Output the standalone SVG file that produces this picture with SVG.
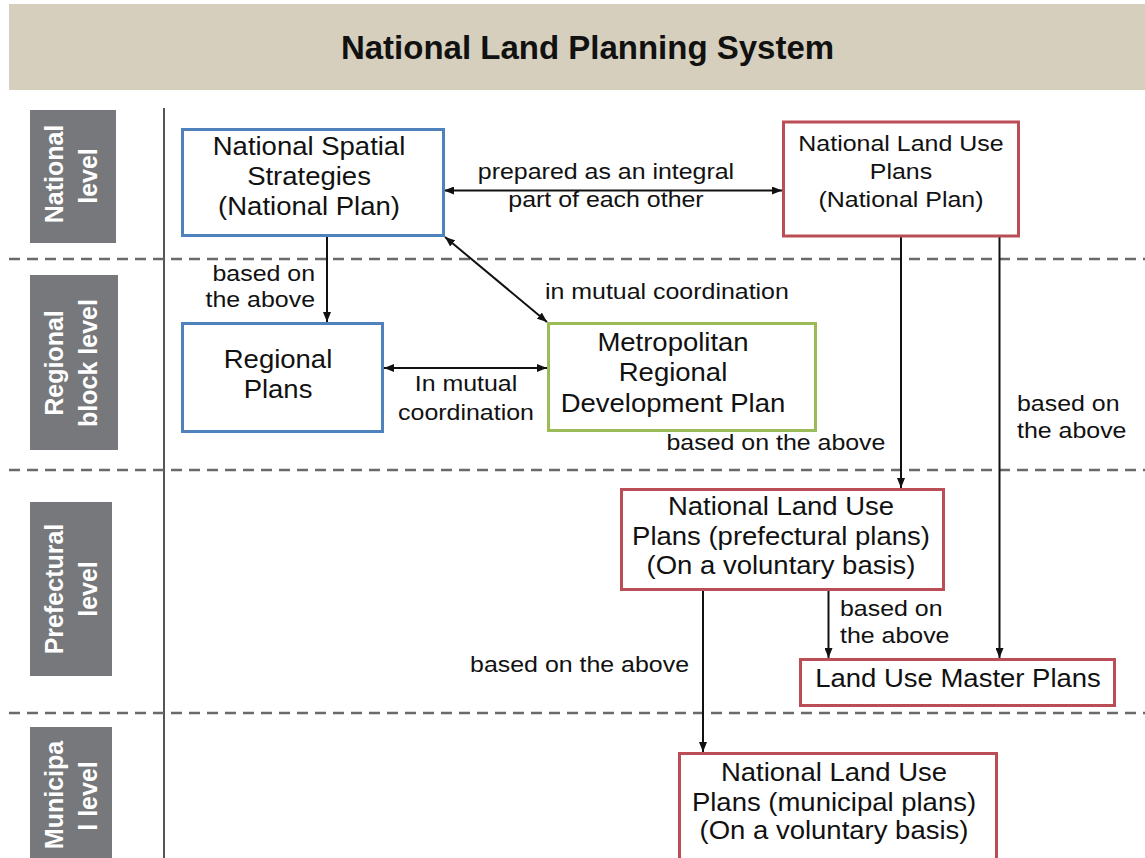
<svg xmlns="http://www.w3.org/2000/svg" width="1145" height="858" viewBox="0 0 1145 858">
<defs>
<marker id="ah" viewBox="0 0 10 8" refX="10" refY="4" markerWidth="10" markerHeight="8" markerUnits="userSpaceOnUse" orient="auto-start-reverse">
<path d="M0,0 L10,4 L0,8 z" fill="#111"/>
</marker>
<style>
text{font-family:"Liberation Sans",Arial,sans-serif;fill:#111;}
.title{font-size:33px;font-weight:bold;text-anchor:middle;}
.lvl{fill:#77787b;}
.lt{font-size:25px;font-weight:bold;fill:#fff;text-anchor:middle;}
.box{fill:#fff;stroke-width:3;}
.blue{stroke:#4f81bd;}
.red{stroke:#bb4d57;}
.green{stroke:#9bbb59;}
.nt{font-size:25px;text-anchor:middle;}
.nt2{font-size:22.5px;text-anchor:middle;}
.lb{font-size:21.5px;}
.mid{text-anchor:middle;}
.end{text-anchor:end;}
.dash{stroke:#6a6a6a;stroke-width:2.5;stroke-dasharray:11 7;}
.con line{stroke:#111;stroke-width:2;fill:none;}
</style>
</defs>
<rect width="1145" height="858" fill="#fff"/>
<g id="header">
<rect x="9" y="4" width="1136" height="86" fill="#d6cfbe"/>
<text class="title" x="587.5" y="59">National Land Planning System</text>
</g>
<g id="grid">
<line x1="164" y1="108" x2="164" y2="858" stroke="#555" stroke-width="2"/>
<line class="dash" x1="9" y1="259" x2="1145" y2="259"/>
<line class="dash" x1="9" y1="470" x2="1145" y2="470"/>
<line class="dash" x1="9" y1="713" x2="1145" y2="713"/>
</g>
<g id="level-national">
<rect class="lvl" x="30" y="110" width="86" height="133"/>
<text class="lt" transform="translate(63 174) rotate(-90)">National</text>
<text class="lt" transform="translate(97 176) rotate(-90)">level</text>
</g>
<g id="level-regional">
<rect class="lvl" x="30" y="275" width="88" height="175"/>
<text class="lt" transform="translate(63 363) rotate(-90)">Regional</text>
<text class="lt" transform="translate(97 363) rotate(-90)">block level</text>
</g>
<g id="level-prefectural">
<rect class="lvl" x="30" y="502" width="82" height="174"/>
<text class="lt" transform="translate(63 589) rotate(-90)">Prefectural</text>
<text class="lt" transform="translate(97 589) rotate(-90)">level</text>
</g>
<g id="level-municipal">
<rect class="lvl" x="30" y="727" width="82" height="140"/>
<text class="lt" transform="translate(63 795) rotate(-90)">Municipa</text>
<text class="lt" transform="translate(97 796) rotate(-90)">l level</text>
</g>
<g id="connectors" class="con">
<line x1="444" y1="190.5" x2="782" y2="190.5" marker-start="url(#ah)" marker-end="url(#ah)"/>
<line x1="327" y1="236" x2="327" y2="322" marker-end="url(#ah)"/>
<line x1="445" y1="237" x2="547" y2="322" marker-start="url(#ah)" marker-end="url(#ah)"/>
<line x1="384" y1="368" x2="547" y2="368" marker-start="url(#ah)" marker-end="url(#ah)"/>
<line x1="901" y1="236" x2="901" y2="488" marker-end="url(#ah)"/>
<line x1="999.5" y1="236" x2="999.5" y2="658" marker-end="url(#ah)"/>
<line x1="703" y1="590" x2="703" y2="752" marker-end="url(#ah)"/>
<line x1="828.5" y1="590" x2="828.5" y2="658" marker-end="url(#ah)"/>
<text class="lb mid" transform="translate(606 0) scale(1.16 1)"><tspan x="0" y="179">prepared as an integral</tspan><tspan x="0" y="207">part of each other</tspan></text>
<text class="lb end" transform="translate(315 0) scale(1.16 1)"><tspan x="0" y="281.5">based on</tspan><tspan x="0" y="307.5">the above</tspan></text>
<text class="lb" transform="translate(545 0) scale(1.16 1)"><tspan x="0" y="299">in mutual coordination</tspan></text>
<text class="lb mid" transform="translate(466 0) scale(1.16 1)"><tspan x="0" y="391.5">In mutual</tspan><tspan x="0" y="420">coordination</tspan></text>
<text class="lb" transform="translate(666.5 0) scale(1.16 1)"><tspan x="0" y="450">based on the above</tspan></text>
<text class="lb" transform="translate(1017 0) scale(1.16 1)"><tspan x="0" y="411">based on</tspan><tspan x="0" y="438">the above</tspan></text>
<text class="lb end" transform="translate(689 0) scale(1.16 1)"><tspan x="0" y="672">based on the above</tspan></text>
<text class="lb" transform="translate(840 0) scale(1.16 1)"><tspan x="0" y="616">based on</tspan><tspan x="0" y="643">the above</tspan></text>
</g>
<g id="node-nss">
<rect class="box blue" x="182.5" y="129.5" width="261" height="106"/>
<text class="nt" transform="translate(309 0) scale(1.1 1)"><tspan x="0" y="155">National Spatial</tspan><tspan x="0" y="185.5">Strategies</tspan><tspan x="0" y="215">(National Plan)</tspan></text>
</g>
<g id="node-nlup-national">
<rect class="box red" x="783.5" y="122" width="235" height="114"/>
<text class="nt2" transform="translate(901 0) scale(1.11 1)"><tspan x="0" y="151">National Land Use</tspan><tspan x="0" y="179">Plans</tspan><tspan x="0" y="207">(National Plan)</tspan></text>
</g>
<g id="node-regional">
<rect class="box blue" x="182.5" y="323.5" width="200" height="108"/>
<text class="nt" transform="translate(278 0) scale(1.1 1)"><tspan x="0" y="368">Regional</tspan><tspan x="0" y="398">Plans</tspan></text>
</g>
<g id="node-metro">
<rect class="box green" x="548.5" y="323.5" width="267" height="107"/>
<text class="nt" transform="translate(673 0) scale(1.1 1)"><tspan x="0" y="351">Metropolitan</tspan><tspan x="0" y="381.5">Regional</tspan><tspan x="0" y="412">Development Plan</tspan></text>
</g>
<g id="node-nlup-pref">
<rect class="box red" x="621.5" y="489.5" width="322" height="100"/>
<text class="nt" transform="translate(781 0) scale(1.1 1)"><tspan x="0" y="515">National Land Use</tspan><tspan x="0" y="545">Plans (prefectural plans)</tspan><tspan x="0" y="574">(On a voluntary basis)</tspan></text>
</g>
<g id="node-master">
<rect class="box red" x="800.5" y="659.5" width="314" height="46"/>
<text class="nt" transform="translate(958 0) scale(1.1 1)"><tspan x="0" y="687">Land Use Master Plans</tspan></text>
</g>
<g id="node-nlup-municipal">
<rect class="box red" x="679.5" y="753.5" width="317" height="115"/>
<text class="nt" transform="translate(834 0) scale(1.1 1)"><tspan x="0" y="781.5">National Land Use</tspan><tspan x="0" y="811.5">Plans (municipal plans)</tspan><tspan x="0" y="839">(On a voluntary basis)</tspan></text>
</g>
</svg>
